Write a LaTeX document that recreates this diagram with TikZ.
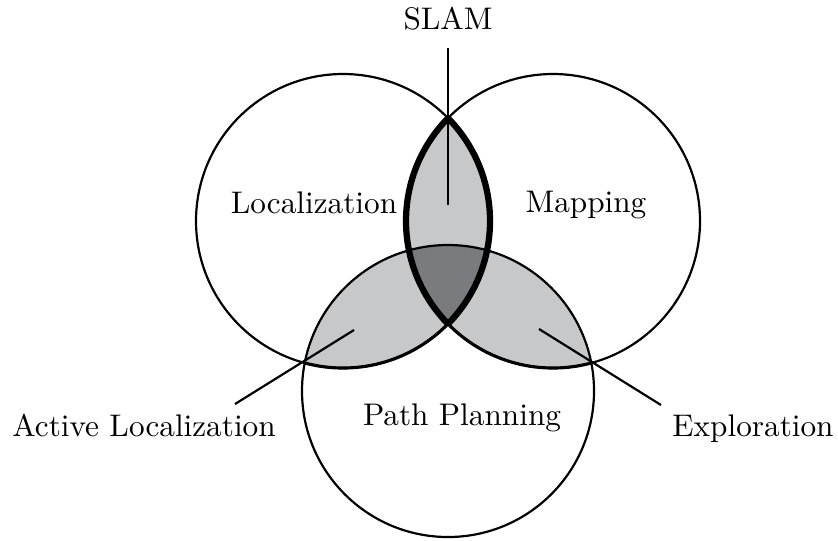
\documentclass[tikz,border=0pt]{standalone}
\definecolor{lenslight}{RGB}{199,200,202}
\definecolor{lensdark}{RGB}{122,123,126}
\tikzset{
  circ/.style={draw=black, line width=0.7pt},
  lbl/.style={font=\fontsize{10}{12}\selectfont, inner sep=0pt},
  leader/.style={draw=black, line width=0.7pt},
}
\begin{document}
\begin{tikzpicture}[x=0.32pt,y=-0.32pt]
\useasboundingbox (0,0) rectangle (838,540);
\coordinate (cl) at (343,221);
\coordinate (cr) at (553,221);
\coordinate (cb) at (448,391);
% fills
\begin{scope}
  \clip (cl) circle[radius=147];
  \fill[lenslight] (cr) circle[radius=147];
  \fill[lenslight] (cb) circle[radius=146];
\end{scope}
\begin{scope}
  \clip (cr) circle[radius=147];
  \fill[lenslight] (cb) circle[radius=146];
\end{scope}
\begin{scope}
  \clip (cl) circle[radius=147];
  \clip (cr) circle[radius=147];
  \fill[lensdark] (cb) circle[radius=146];
\end{scope}
% circles
\draw[circ] (cl) circle[radius=147];
\draw[circ] (cr) circle[radius=147];
\draw[circ] (cb) circle[radius=146];
% slightly thicker lower lens arcs
\begin{scope}
  \clip (cb) circle[radius=146];
  \draw[line width=1.0pt] (cl) circle[radius=147];
  \draw[line width=1.0pt] (cr) circle[radius=147];
\end{scope}
% thick SLAM lens
\begin{scope}
  \clip (cl) circle[radius=147];
  \draw[line width=2.0pt] (cr) circle[radius=147];
\end{scope}
\begin{scope}
  \clip (cr) circle[radius=147];
  \draw[line width=2.0pt] (cl) circle[radius=147];
\end{scope}
% labels
\node[lbl, anchor=base] (slam) at (448,29) {SLAM};
\node[lbl, anchor=base] (loc) at (314,213) {Localization};
\node[lbl, anchor=base] (map) at (586,212) {Mapping};
\node[lbl, anchor=base] (pp) at (462,425) {Path Planning};
\node[lbl, anchor=base] (al) at (144,436) {Active Localization};
\node[lbl, anchor=base] (ex) at (753,436) {Exploration};
% leaders
\coordinate (slamtop) at (448,48);
\coordinate (slamend) at (448,205);
\coordinate (altop) at (235,404);
\coordinate (alend) at (354,330);
\coordinate (extop) at (661,405);
\coordinate (exend) at (539,329);
\draw[leader] (slamtop) -- (slamend);
\draw[leader] (altop) -- (alend);
\draw[leader] (extop) -- (exend);
\end{tikzpicture}
\end{document}
